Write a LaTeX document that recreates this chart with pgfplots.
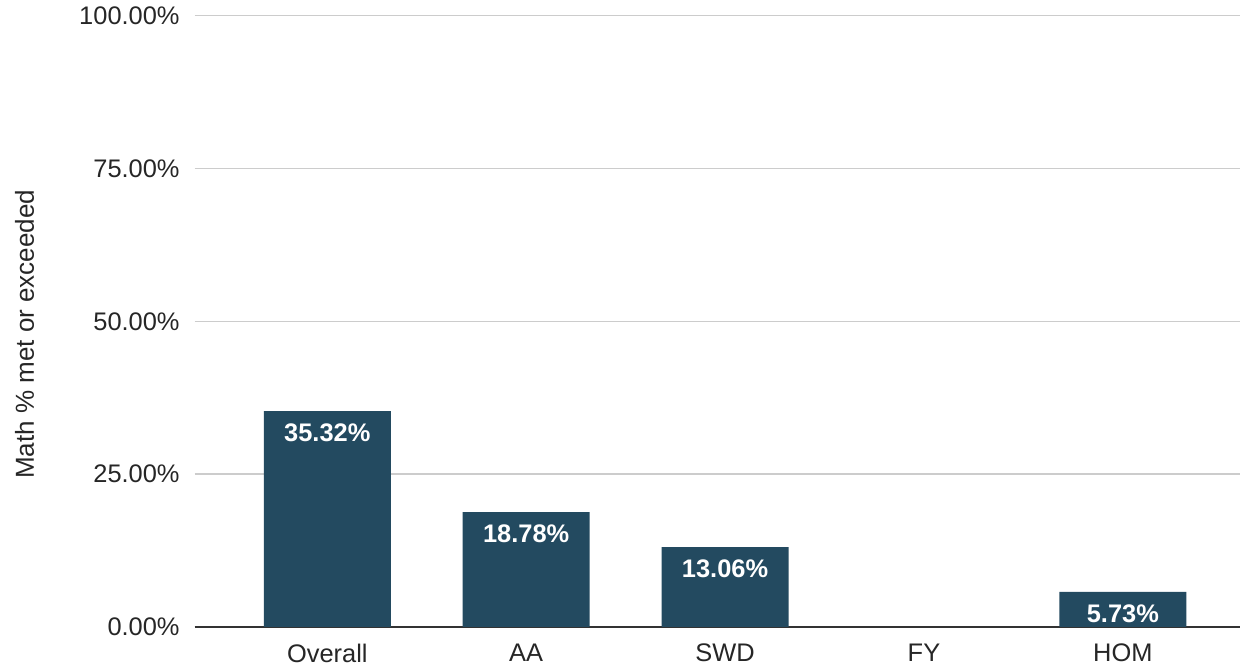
\documentclass[border=0pt]{standalone}
\usepackage{pgfplots}
\pgfplotsset{compat=1.18}
\usepackage{fontspec}
\setmainfont{Liberation Sans}
\definecolor{barC}{RGB}{35,74,96}
\definecolor{gridC}{RGB}{204,204,204}

\begin{document}
\begin{tikzpicture}
\begin{axis}[
  scale only axis,
  width=522.5pt, height=305.5pt,
  xmin=-0.667, xmax=4.59,
  ymin=0, ymax=100,
  axis x line*=bottom, axis y line*=left,
  y axis line style={draw=none},
  x axis line style={black!80, line width=0.8pt},
  xtick={0,1,2,3,4},
  xticklabels={Overall,AA,SWD,FY,HOM},
  ytick={0,25,50,75,100},
  yticklabels={0.00\%,25.00\%,50.00\%,75.00\%,100.00\%},
  ymajorgrids, grid style={gridC, line width=0.8pt},
  major tick length=0pt,
  /pgf/number format/assume math mode=true,
  tick label style={font=\fontsize{12.7}{14}\selectfont, black!85},
  xticklabel style={yshift=-5pt},
  yticklabel style={xshift=-4pt},
  ylabel={Math \% met or exceeded},
  every axis y label/.style={at={(rel axis cs:0,0.5)}, rotate=90, anchor=center,
    yshift=85pt, xshift=-6.5pt, inner ysep=7.5pt, font=\fontsize{13}{15}\selectfont, black!85},
  clip=false,
]
\addplot[ybar, bar width=63.5pt, fill=barC, draw=none,
  nodes near coords={\pgfmathprintnumber[fixed, fixed zerofill, precision=2, assume math mode=true]{\pgfplotspointmeta}\%},
  every node near coord/.append style={anchor=north, yshift=-3pt, text=white,
    font=\fontsize{12.7}{14}\selectfont\bfseries},
] coordinates {(0,35.32) (1,18.78) (2,13.06) (4,5.73)};
\end{axis}
\end{tikzpicture}
\end{document}
